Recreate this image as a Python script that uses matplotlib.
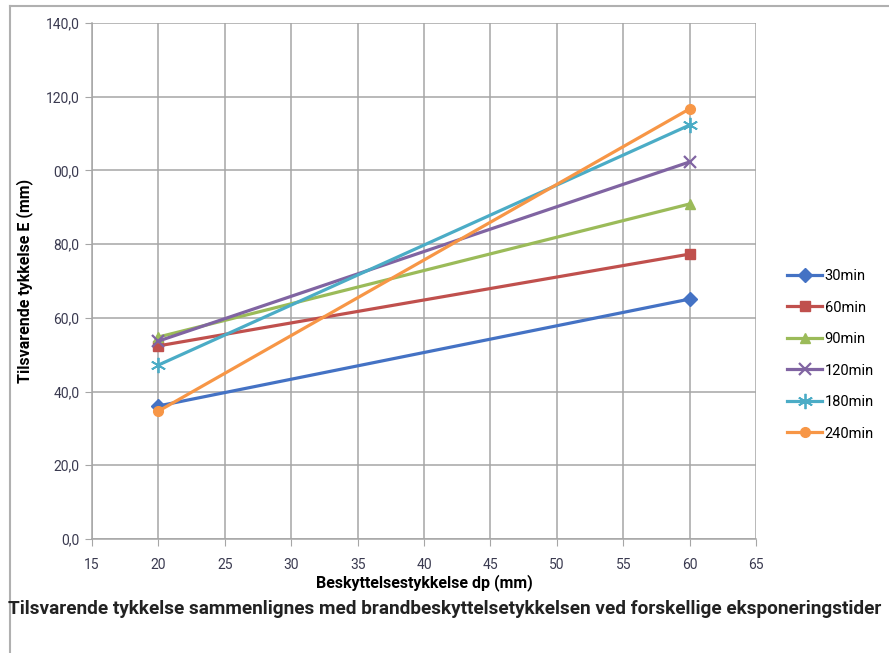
import matplotlib
matplotlib.use("Agg")
import matplotlib.pyplot as plt
from matplotlib.lines import Line2D

# data
dp = [20, 60]
series_names = ["30min", "60min", "90min", "120min", "180min", "240min"]
e_30 = [36.1, 65.1]
e_60 = [52.4, 77.3]
e_90 = [54.8, 90.9]
e_120 = [53.7, 102.3]
e_180 = [47.2, 112.3]
e_240 = [34.7, 116.7]
colors = ["#4472C4", "#C0504D", "#9BBB59", "#8064A2", "#4BACC6", "#F79646"]
markers = ["D", "s", "^", "x", "*", "o"]

x_ticks = [15, 20, 25, 30, 35, 40, 45, 50, 55, 60, 65]
y_ticks = [0, 20, 40, 60, 80, 100, 120, 140]
y_tick_labels = ["0,0", "20,0", "40,0", "60,0", "80,0", "00,0", "120,0", "140,0"]

plt.rcParams['font.family'] = ['Roboto', 'DejaVu Sans']

fig = plt.figure(figsize=(8.89, 6.53), dpi=100)
ax = fig.add_axes([92/889, 1-539/653, (756-92)/889, (539-23)/653])

all_series = [e_30, e_60, e_90, e_120, e_180, e_240]
for name, vals, c, m in zip(series_names, all_series, colors, markers):
    if m == "x":
        ax.plot(dp, vals, color=c, lw=2.3, marker="x", ms=9, mew=1.6, label=name)
    elif m == "*":
        ax.plot(dp, vals, color=c, lw=2.3, marker=(6, 2, 0), ms=11, mew=1.3, label=name)
    else:
        ax.plot(dp, vals, color=c, lw=2.3, marker=m, ms=7, label=name)

ax.set_xlim(15, 65)
ax.set_ylim(0, 140)
ax.set_xticks(x_ticks)
ax.set_yticks(y_ticks)
ax.set_yticklabels(y_tick_labels)
ax.grid(True, color="#a6a6a6", lw=1.1)
ax.set_axisbelow(True)
for s in ["top", "right"]:
    ax.spines[s].set_visible(False)
for s in ["left", "bottom"]:
    ax.spines[s].set_color("#a6a6a6")
    ax.spines[s].set_linewidth(1.1)
ax.tick_params(axis="both", length=5, color="#a6a6a6", labelsize=10, labelcolor="#3a3a50", pad=4)
ax.tick_params(axis="x", pad=9)

ax.set_ylabel("Tilsvarende tykkelse E (mm)", fontsize=11.5, fontweight="bold", labelpad=9)
ax.set_xlabel("Beskyttelsestykkelse dp (mm)", fontsize=11.5, fontweight="bold", labelpad=1)

ax.legend(loc="center left", bbox_to_anchor=(1.0275, 0.357), frameon=False,
          handlelength=2.4, labelspacing=1.2, handletextpad=0.15,
          prop={"size": 10.5})

fig.text(8/889, 1-609/653, "Tilsvarende tykkelse sammenlignes med brandbeskyttelsetykkelsen ved forskellige eksponeringstider",
         fontsize=13.7, fontweight="bold", color="#222222", va="center", ha="left")

# outer frame
fig.add_artist(Line2D([10/889, 10/889], [0, 1-6/653], color="#b0b0b0", lw=1.5))
fig.add_artist(Line2D([10/889, 1], [1-6/653, 1-6/653], color="#b0b0b0", lw=1.5))

fig.savefig("out.png", dpi=100)
